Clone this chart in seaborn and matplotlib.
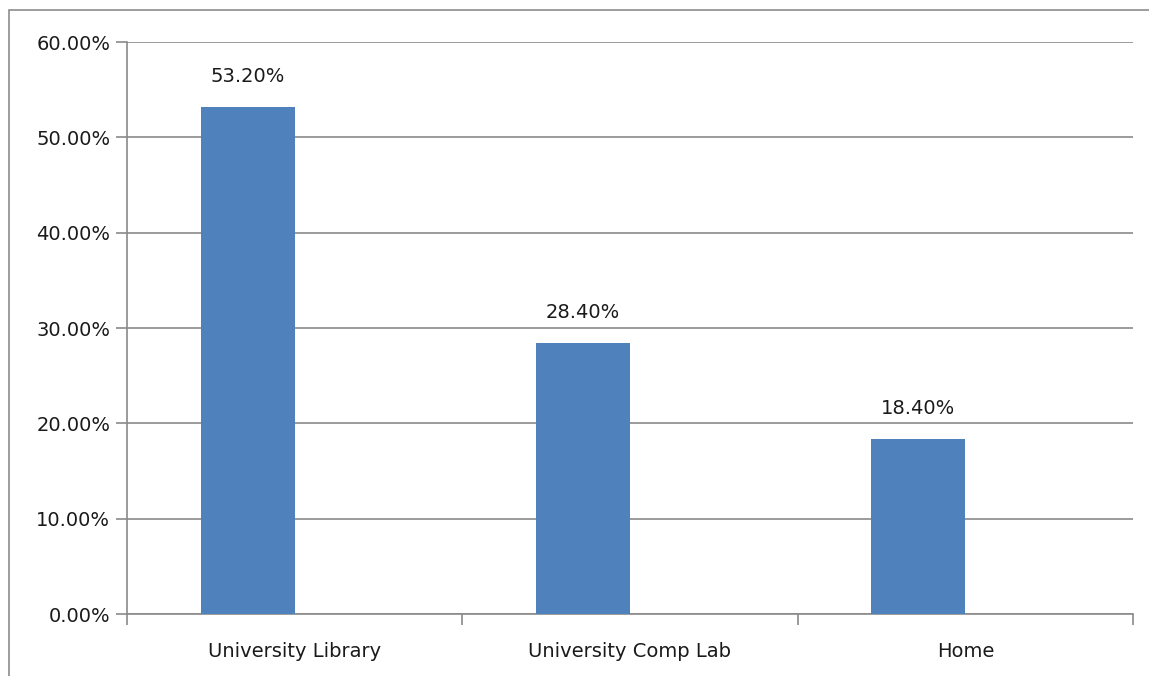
import matplotlib
matplotlib.use("Agg")
import matplotlib.pyplot as plt
import seaborn as sns
import pandas as pd
import numpy as np
from matplotlib.patches import Rectangle
from matplotlib.ticker import FuncFormatter, MultipleLocator

locations = ["University Library", "University Comp Lab", "Home"]
shares = [53.20, 28.40, 18.40]
series = ["Share", "Spare"]

# clustered layout: the first series sits left of each category centre,
# the second slot is empty
df = pd.DataFrame({
    "location": locations * 2,
    "share": shares + [np.nan] * len(locations),
    "series": [series[0]] * len(locations) + [series[1]] * len(locations),
})

sns.set_style("white")
plt.rcParams["font.family"] = ["DejaVu Sans"]

fig = plt.figure(figsize=(11.49, 6.76), dpi=100)
W, H = 1149, 676
ax = fig.add_axes([127 / W, 1 - 614 / H, (1133 - 127) / W, (614 - 42) / H])

# chart-area frame
fig.patches.append(Rectangle((9 / W, -0.1), 1.2, 1 - 10 / H + 0.1,
                             transform=fig.transFigure, fill=False,
                             edgecolor="#8c8c8c", linewidth=1.2))

sns.barplot(data=df, x="location", y="share", hue="series",
            palette=["#4F81BD", "#C0504D"], saturation=1, width=0.56,
            linewidth=0, ax=ax, zorder=3, legend=False)

ax.set_ylim(0, 60)
ax.set_xlim(-0.5, 2.5)
ax.yaxis.set_major_locator(MultipleLocator(10))
ax.yaxis.set_major_formatter(FuncFormatter(lambda v, _: f"{v:.2f}%"))
ax.grid(axis="y", color="#8a8a8a", linewidth=1.2, zorder=0)
ax.set_axisbelow(True)

for side in ["top", "right"]:
    ax.spines[side].set_visible(False)
for side in ["left", "bottom"]:
    ax.spines[side].set_color("#8a8a8a")
    ax.spines[side].set_linewidth(1.2)

ax.set_xlabel("")
ax.set_ylabel("")
ax.set_xticks([0, 1, 2])
ax.set_xticklabels(locations)
ax.set_xticks([-0.5, 0.5, 1.5, 2.5], minor=True)
ax.tick_params(axis="x", which="major", bottom=True, length=0, pad=20,
               labelsize=14, labelcolor="#1a1a1a")
ax.tick_params(axis="x", which="minor", bottom=True, length=8, width=1.2,
               color="#8a8a8a", direction="out")
ax.tick_params(axis="y", left=True, length=8, width=1.2, color="#8a8a8a",
               direction="out", pad=4, labelsize=14, labelcolor="#1a1a1a")

for bar, v in zip(ax.patches, shares):
    cx = bar.get_x() + bar.get_width() / 2
    ax.text(cx, v + 2.2, f"{v:.2f}%", ha="center", va="bottom",
            fontsize=14, color="#1a1a1a")

fig.savefig("out.png", dpi=100, facecolor="white")
